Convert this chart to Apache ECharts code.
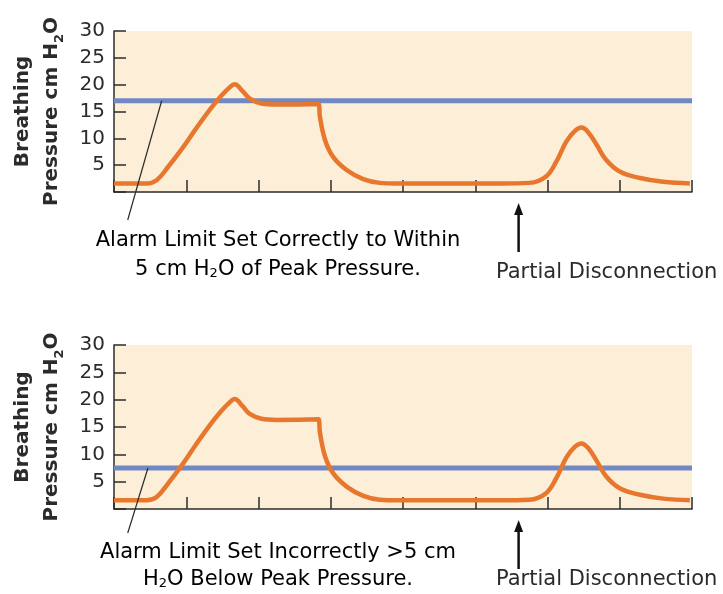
<!DOCTYPE html>
<html>
<head>
<meta charset="utf-8">
<script src="https://cdn.jsdelivr.net/npm/echarts@6/dist/echarts.min.js"></script>
<style>
html, body { margin: 0; padding: 0; background: #fff; }
#chart { width: 723px; height: 594px; }
</style>
</head>
<body>
<div id="chart"></div>
<script>
// breathing pressure trace (time in arbitrary tick units, cm H2O)
var pressureX = [0, 0.45, 0.59, 0.75, 0.96, 1.14, 1.33, 1.47, 1.60, 1.67, 1.78, 1.88, 2.04, 2.25, 2.83, 2.85, 2.92, 3.03, 3.22, 3.45, 3.68, 3.9,
    5.34, 5.75, 5.98, 6.12, 6.26, 6.38, 6.47, 6.56, 6.68, 6.81, 7.0, 7.28, 7.6, 7.97];
var pressureY = [1.6, 1.6, 2.2, 4.7, 8.4, 11.9, 15.4, 17.7, 19.5, 20.1, 18.8, 17.4, 16.5, 16.3, 16.4, 14.0, 9.7, 6.6, 4.1, 2.4, 1.7, 1.6,
    1.6, 1.7, 2.9, 5.6, 9.4, 11.4, 12.0, 11.2, 8.8, 6.0, 3.8, 2.6, 1.9, 1.6];
var timeRange = [0, 8];
var yTicks = [0, 5, 10, 15, 20, 25, 30];
var alarmLimits = [17, 7.5];   // top chart, bottom chart
var disconnectAt = 5.6;
var limitPointerX = [0.66, 0.47];
var captions = [
    ['{t|Alarm Limit Set Correctly to Within}', '{t|5 cm H}{s|2}{t|O of Peak Pressure.}'],
    ['{t|Alarm Limit Set Incorrectly >5 cm}', '{t|H}{s|2}{t|O Below Peak Pressure.}']
];

var ORANGE = '#E8772E';
var BLUE = '#7088C4';
var INK = '#2b2b2b';
var FONT = 'DejaVu Sans';

var chart = echarts.init(document.getElementById('chart'));

var pressureData = pressureX.map(function(x, i) { return [x, pressureY[i]]; });

var gridList = [
    { left: 114, top: 31, width: 578, height: 161 },
    { left: 114, top: 345, width: 578, height: 164 }
];

var xAxes = [], yAxes = [], series = [];
for (var g = 0; g < 2; g++) {
    xAxes.push({
        type: 'value',
        gridIndex: g,
        min: timeRange[0],
        max: timeRange[1],
        interval: 1,
        axisLine: { lineStyle: { color: INK, width: 1.5 } },
        axisTick: { inside: true, length: 12, lineStyle: { color: INK, width: 1.5 } },
        axisLabel: { show: false },
        splitLine: { show: false }
    });
    yAxes.push({
        type: 'value',
        gridIndex: g,
        min: yTicks[0],
        max: yTicks[yTicks.length - 1],
        interval: yTicks[1] - yTicks[0],
        axisLine: { show: true, lineStyle: { color: INK, width: 1.5 } },
        axisTick: { show: true, inside: true, length: 12, lineStyle: { color: INK, width: 1.5 } },
        axisLabel: {
            fontFamily: FONT,
            fontSize: 20,
            color: INK,
            margin: 9,
            formatter: function(v) { return v === 0 ? '' : v; }
        },
        splitLine: { show: false },
        name: '{b|Breathing}\n{b|Pressure cm H}{s|2}{b|O}',
        nameLocation: 'middle',
        nameRotate: 90,
        nameGap: 48,
        nameTextStyle: {
            rich: {
                b: { fontFamily: FONT, fontWeight: 'bold', fontSize: 20, color: INK, lineHeight: 29 },
                s: { fontFamily: FONT, fontWeight: 'bold', fontSize: 13, color: INK, lineHeight: 14, verticalAlign: 'bottom' }
            }
        }
    });
    series.push({
        name: 'Alarm limit',
        type: 'line',
        xAxisIndex: g,
        yAxisIndex: g,
        symbol: 'none',
        lineStyle: { color: BLUE, width: 5 },
        data: [[timeRange[0], alarmLimits[g]], [timeRange[1], alarmLimits[g]]],
        z: 2
    });
    series.push({
        name: 'Pressure',
        type: 'line',
        xAxisIndex: g,
        yAxisIndex: g,
        symbol: 'none',
        smooth: 0.4,
        lineStyle: { color: ORANGE, width: 4.5 },
        data: pressureData,
        z: 3
    });
}

chart.setOption({
    animation: false,
    grid: gridList.map(function(gr) {
        return Object.assign({ show: true, backgroundColor: '#FDEFD7', borderWidth: 0, outerBoundsMode: 'none' }, gr);
    }),
    xAxis: xAxes,
    yAxis: yAxes,
    series: series
});

/** annotations: pointer line to the alarm limit, captions and disconnection arrows */
var textRich = {
    t: { fontFamily: FONT, fontSize: 21, color: INK },
    s: { fontFamily: FONT, fontSize: 13, color: INK, lineHeight: 13, verticalAlign: 'bottom' }
};
var graphics = [];
for (var k = 0; k < 2; k++) {
    var axisY = chart.convertToPixel({ gridIndex: k }, [0, 0])[1];
    var limitPt = chart.convertToPixel({ gridIndex: k }, [limitPointerX[k], alarmLimits[k]]);
    var footX = chart.convertToPixel({ gridIndex: k }, [0.19, 0])[0];
    var arrowX = chart.convertToPixel({ gridIndex: k }, [disconnectAt, 0])[0];
    var captionX = chart.convertToPixel({ gridIndex: k }, [2.27, 0])[0];
    var tail = k === 0 ? 28 : 24;

    graphics.push({
        type: 'line',
        shape: { x1: limitPt[0], y1: limitPt[1], x2: footX, y2: axisY + tail },
        style: { stroke: INK, lineWidth: 1.2 },
        z: 10
    });
    graphics.push({
        type: 'text',
        x: captionX,
        y: axisY + (k === 0 ? 49 : 44),
        style: { text: captions[k][0], rich: textRich, align: 'center', verticalAlign: 'middle' }
    });
    graphics.push({
        type: 'text',
        x: captionX,
        y: axisY + (k === 0 ? 78 : 71),
        style: { text: captions[k][1], rich: textRich, align: 'center', verticalAlign: 'middle' }
    });
    // arrow
    var tipY = axisY + 11;
    graphics.push({
        type: 'line',
        shape: { x1: arrowX, y1: tipY + 8, x2: arrowX, y2: axisY + 60 },
        style: { stroke: '#111', lineWidth: 2.5 }
    });
    graphics.push({
        type: 'polygon',
        shape: { points: [[arrowX, tipY], [arrowX - 4.5, tipY + 12], [arrowX + 4.5, tipY + 12]] },
        style: { fill: '#111' }
    });
    graphics.push({
        type: 'text',
        x: 496,
        y: axisY + (k === 0 ? 81 : 71),
        style: {
            text: 'Partial Disconnection',
            fontFamily: FONT,
            fontSize: 21,
            fill: INK,
            align: 'left',
            verticalAlign: 'middle'
        }
    });
}
chart.setOption({ graphic: graphics });
</script>
</body>
</html>
